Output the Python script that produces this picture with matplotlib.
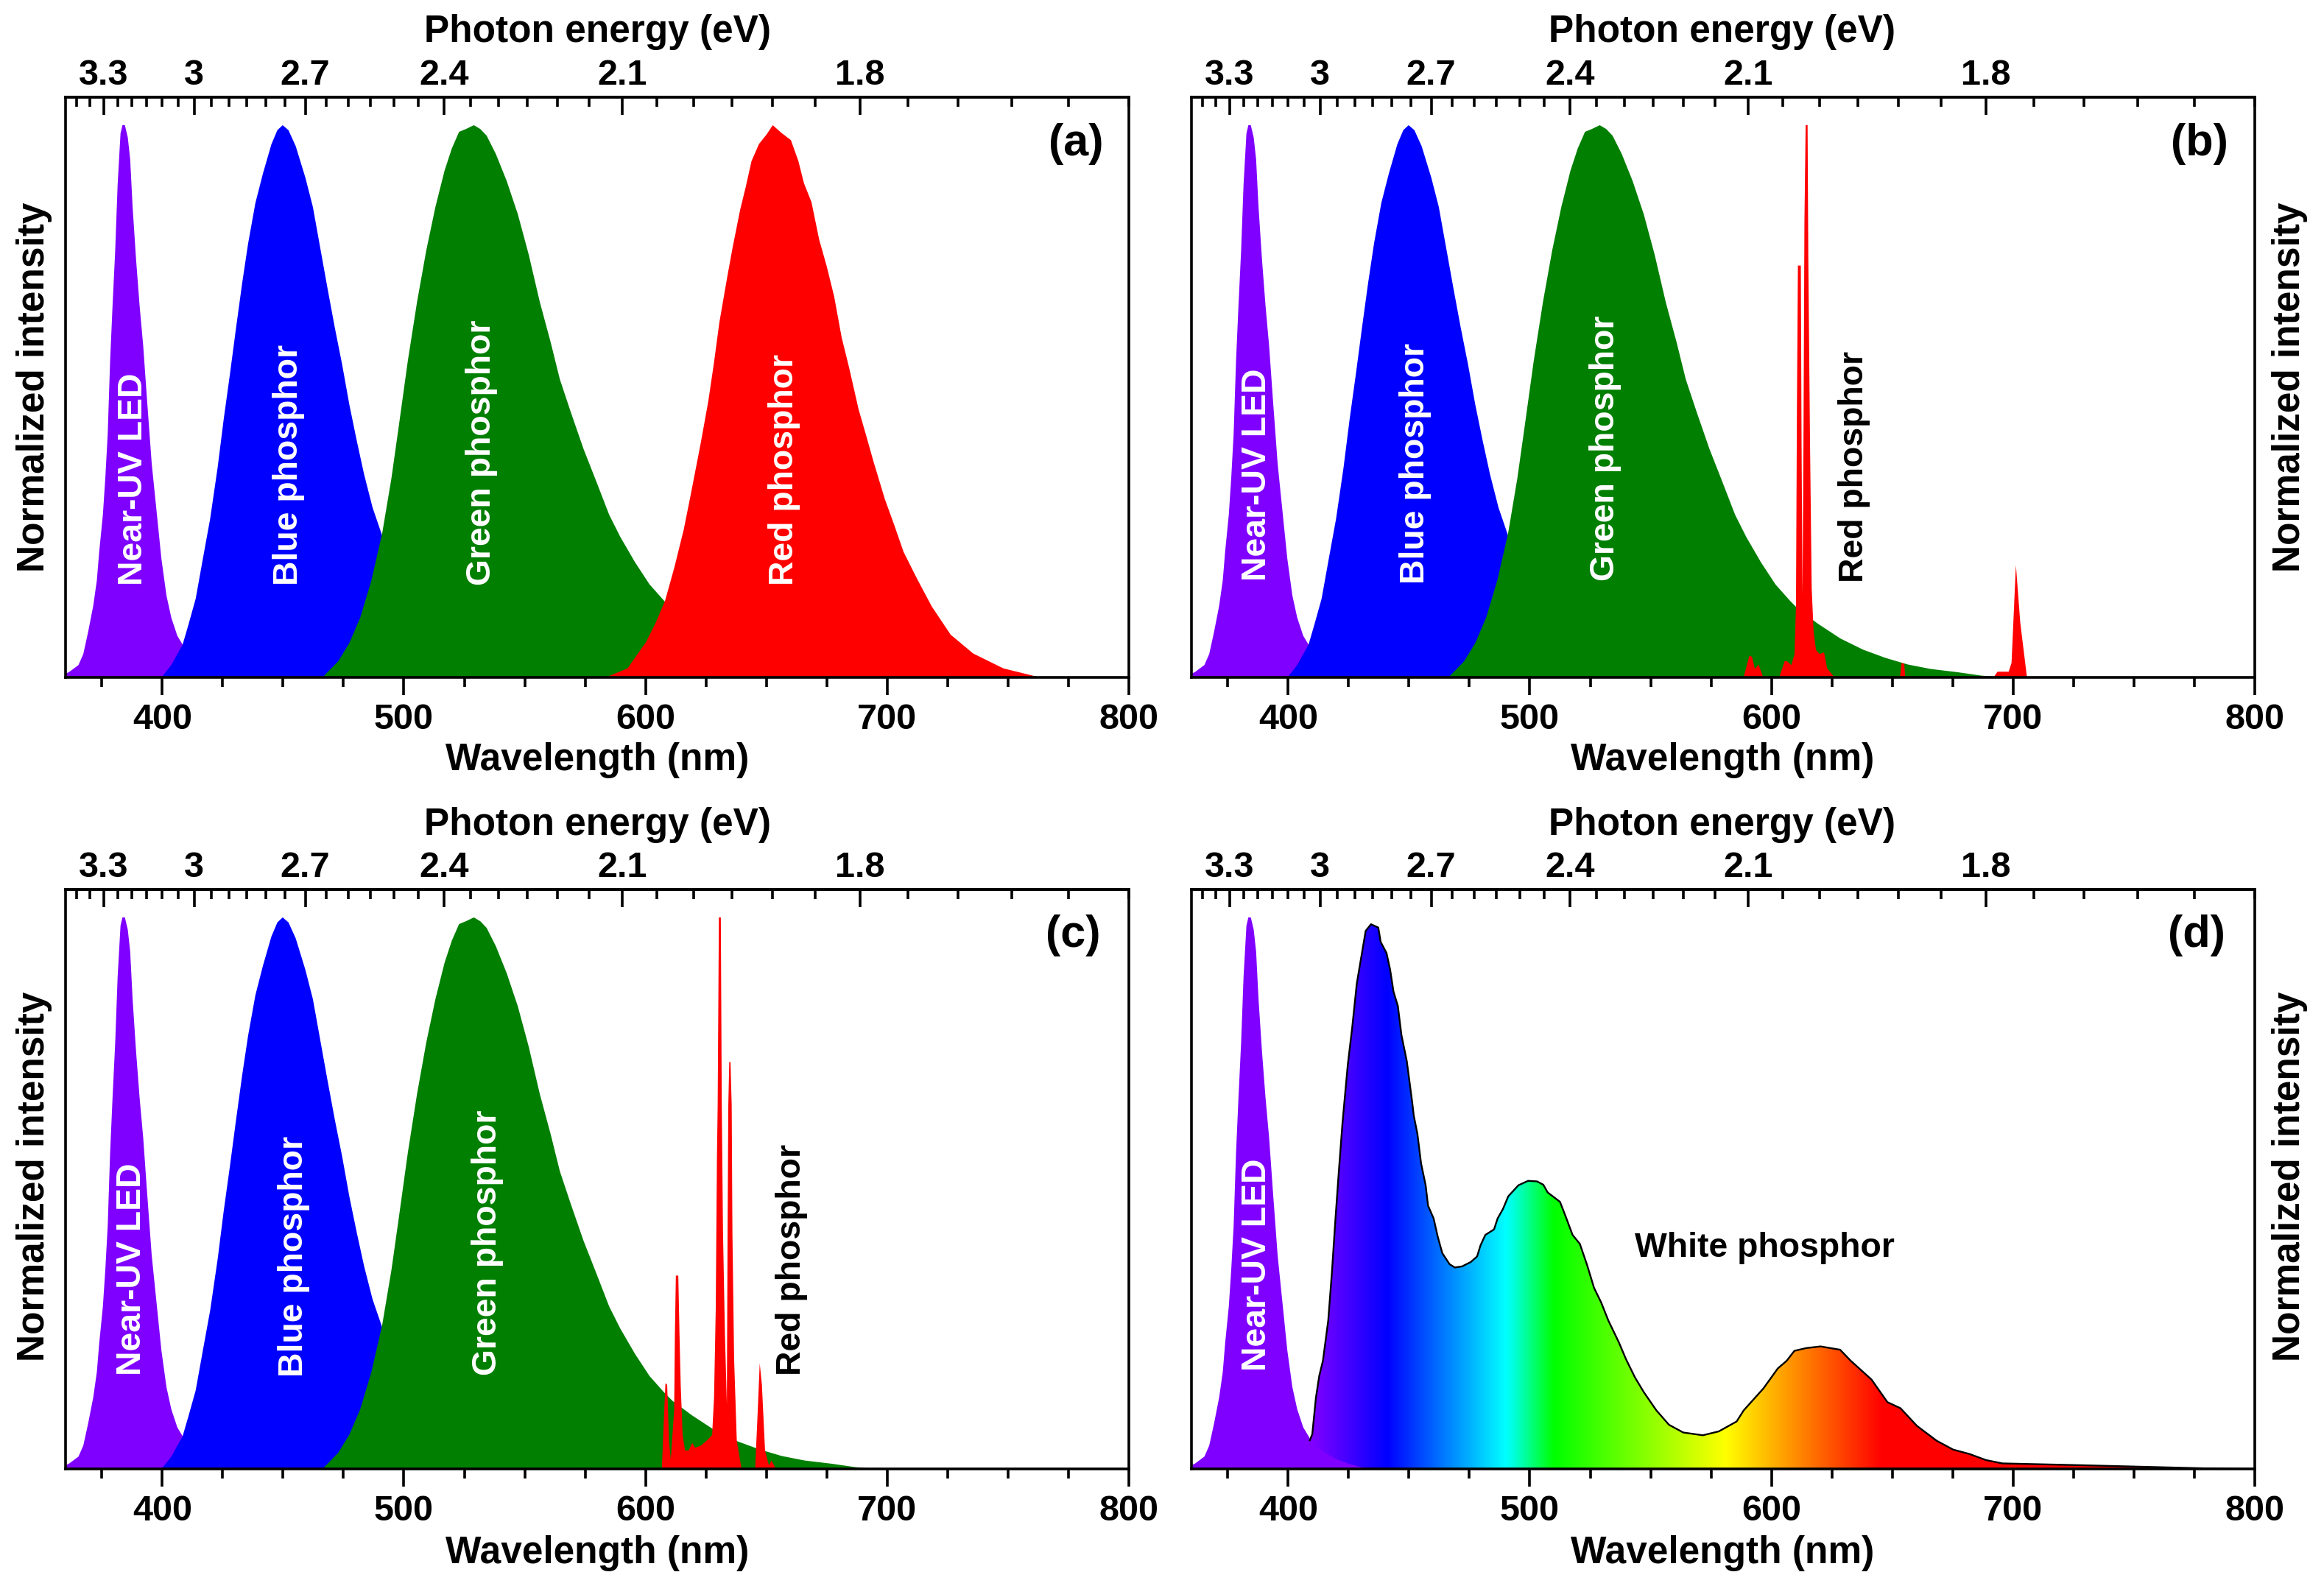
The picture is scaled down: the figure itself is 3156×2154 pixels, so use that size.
import numpy as np
import matplotlib
matplotlib.use("Agg")
import matplotlib.pyplot as plt
from matplotlib.colors import LinearSegmentedColormap
from matplotlib.ticker import FixedLocator, NullFormatter
from matplotlib.patches import Polygon

plt.rcParams['font.family'] = ['Liberation Sans', 'DejaVu Sans']
plt.rcParams['font.weight'] = 'bold'

W, H = 3156, 2154
S = 3156 / 1568

uv_nm = [360, 361.2, 365.2, 367.2, 369.2, 371.3, 372.8, 373.8, 375.3, 376.3, 377.3, 378.3, 379.3, 380.4, 381.4, 382.6, 383.4, 384.4, 385.6, 386.6, 387.6, 389, 390.5, 392, 393.5, 395.5, 397.5, 399.5, 401.6, 403.6, 406.1, 408.3, 412, 420]
uv_i = [.008, .01, .023, .043, .083, .13, .176, .229, .295, .361, .441, .574, .673, .773, .892, .985, 1.0, 1.0, .978, .938, .852, .759, .673, .6, .507, .388, .302, .216, .149, .109, .076, .06, .03, 0]

blue_nm = [399.5, 403.6, 408.3, 410.7, 413.7, 416.7, 419.7, 422.8, 425.3, 427.8, 430.4, 432.9, 435.4, 438.4, 441.5, 445, 447.5, 449.7, 452.1, 455.1, 459.1, 462.2, 465.2, 468.2, 471.3, 474.3, 477.3, 480.4, 483.4, 486.9, 490.5, 500, 515, 525]
blue_i = [0, .023, .06, .096, .143, .216, .288, .381, .468, .547, .633, .713, .786, .859, .912, .965, .991, 1.0, .991, .962, .905, .852, .779, .706, .633, .567, .494, .428, .368, .308, .262, .12, .03, 0]

green_nm = [465, 466.7, 472.7, 477.3, 481.8, 486.4, 490.9, 494.7, 497.7, 501.5, 505.3, 509.1, 512.9, 516.7, 519.7, 522.7, 525.5, 528.8, 531.5, 534.1, 537.9, 542.4, 547, 551.5, 556.1, 560.6, 564.4, 568.9, 574.2, 579.5, 584.8, 589.4, 595.5, 601.5, 607.6, 611, 619, 628.4, 637.7, 647, 656.3, 665.6, 677, 686.5, 695, 705]
green_i = [0, .003, .03, .063, .109, .176, .262, .361, .454, .574, .68, .773, .852, .918, .958, .988, .993, 1.0, .993, .981, .948, .899, .839, .766, .68, .607, .54, .481, .414, .355, .295, .255, .209, .169, .139, .124, .098, .071, .051, .036, .024, .016, .01, .004, .001, 0]

red_a_nm = [583, 592.4, 600.1, 604, 607.9, 611.8, 615.7, 618.8, 622.7, 625.8, 628.1, 630.4, 633.6, 635.9, 639, 641.3, 643.7, 646.8, 649.9, 652.5, 656.1, 660, 663.1, 665.4, 668.5, 671.7, 674.8, 677.9, 681, 684.1, 688, 691.1, 694.2, 698.9, 702.8, 706.6, 712.1, 718.3, 726.1, 735.4, 747.9, 761.8, 768]
red_a_i = [0, .017, .065, .099, .139, .2, .269, .337, .425, .5, .568, .643, .724, .779, .847, .888, .935, .966, .983, 1.0, .986, .973, .935, .895, .861, .793, .745, .69, .616, .561, .486, .439, .391, .323, .276, .228, .18, .129, .078, .044, .017, .002, 0]

red_b_nm = [588.3, 590.7, 591.8, 593, 594.5, 596.5, 603, 605.3, 606.3, 608.1, 609.4, 610, 610.4, 610.8, 612, 612.3, 612.7, 613.1, 613.5, 614, 614.8, 615.1, 615.8, 616.5, 617.3, 618.3, 619.8, 621.6, 622.9, 625.5, 628.6, 653, 653.7, 654.8, 655.2, 691.6, 693.4, 698, 699.2, 701, 702.8, 705.6]
red_b_i = [0, .04, .038, .016, .024, 0, 0, .03, .03, .023, .043, .129, .494, .746, .746, .428, .149, .428, .826, 1.0, 1.0, .759, .428, .162, .083, .05, .043, .046, .017, .003, 0, 0, .027, .025, 0, 0, .011, .011, .027, .204, .10, 0]

red_c_nm = [606.6, 607.6, 608.1, 608.8, 609.6, 610.3, 611.7, 612, 612.4, 613.4, 613.9, 614.4, 615.2, 616.2, 617.7, 619.2, 620.3, 622.8, 625.4, 627.4, 628.2, 628.9, 629.4, 629.7, 630.2, 631, 631.4, 631.9, 632.7, 633.5, 633.8, 634.1, 634.5, 635, 635.5, 635.8, 636.5, 637.6, 639.6, 645.2, 646.3, 647.1, 648, 649.3, 650.9, 652, 653.8]
red_c_i = [0, .108, .156, .153, .048, .018, .108, .245, .351, .351, .245, .153, .062, .034, .034, .048, .039, .043, .053, .062, .13, .29, .566, .66, 1.0, 1.0, .66, .43, .245, .117, .43, .66, .738, .738, .66, .43, .2, .053, 0, 0, .108, .192, .153, .034, .007, .016, 0]

white_nm = [409, 410, 411.5, 412.9, 414.4, 416.6, 418.1, 419.6, 421, 422.5, 424.7, 426.5, 428.4, 429.9, 432.1, 434.3, 437.3, 438.3, 440.7, 442.2, 443.6, 445.4, 446.9, 449.1, 451.3, 452, 453.5, 455, 456.9, 457.9, 460.2, 461.9, 463.8, 466.8, 469, 472, 475.6, 478.2, 479.6, 481.6, 485.2, 486.7, 488.9, 491.1, 495.3, 499.3, 503, 505.6, 507.4, 512.5, 514.8, 517.7, 520.7, 523.6, 526.6, 529.5, 532.5, 536.9, 539.8, 543.5, 547.2, 552.4, 557.6, 563.5, 571.6, 578.2, 585.6, 588.5, 596.7, 602.6, 606.3, 609.5, 614.4, 620.3, 628.4, 632.8, 641.4, 648, 653.4, 660.2, 668.4, 675.2, 682, 688.8, 695.6, 725.6, 752.9, 780, 800]
white_i = [.052, .063, .129, .169, .196, .269, .355, .454, .54, .627, .733, .799, .879, .918, .975, .987, .981, .955, .935, .905, .865, .839, .786, .739, .666, .64, .607, .554, .514, .477, .454, .421, .391, .371, .365, .367, .375, .385, .405, .424, .434, .454, .471, .494, .514, .522, .521, .515, .501, .484, .458, .424, .408, .371, .328, .302, .269, .229, .199, .166, .139, .106, .08, .066, .061, .068, .086, .106, .146, .182, .196, .214, .219, .222, .216, .196, .162, .121, .11, .078, .051, .035, .027, .016, .01, .007, .004, .001, 0]

uv_tail_nm = [409, 415, 420, 425, 430, 438]
uv_tail_i = [.05, .03, .018, .01, .004, 0]

spectrum_nm = [400, 410, 441, 490, 493, 510, 581, 646, 800]
spectrum_col = ['#8000ff', '#8000ff', '#0000ff', '#00ffff', '#00ffe0', '#00ff00', '#ffff00', '#ff0000', '#ff0000']

bottom_major = [400, 500, 600, 700, 800]
bottom_minor = [375, 425, 450, 475, 525, 550, 575, 625, 650, 675, 725, 750, 775]
top_major = [3.3, 3.0, 2.7, 2.4, 2.1, 1.8]
top_labels = ['3.3', '3', '2.7', '2.4', '2.1', '1.8']
top_minor = [3.4, 3.35, 3.25, 3.2, 3.15, 3.1, 3.05, 2.95, 2.9, 2.85, 2.8, 2.75, 2.65, 2.6, 2.55, 2.5, 2.45,
             2.35, 2.3, 2.25, 2.2, 2.15, 2.05, 2.0, 1.95, 1.9, 1.85, 1.75, 1.7, 1.65, 1.6, 1.55]

VIOLET, BLUE, GREEN, RED = '#7f00ff', '#0000ff', '#007f00', '#ff0000'
FS = 35
LW = 2.6

fig = plt.figure(figsize=(W / 100, H / 100), dpi=100, facecolor='white')


def make_axes(l, t, r, b):
    ax = fig.add_axes([l / W, 1 - b / H, (r - l) / W, (b - t) / H])
    ax.set_xlim(360, 800)
    ax.set_ylim(0, 1.05)
    ax.set_yticks([])
    ax.xaxis.set_major_locator(FixedLocator(bottom_major))
    ax.xaxis.set_minor_locator(FixedLocator(bottom_minor))
    ax.tick_params(axis='x', which='major', direction='out', length=17, width=LW, labelsize=FS, pad=8)
    ax.tick_params(axis='x', which='minor', direction='out', length=9, width=LW)
    for s in ax.spines.values():
        s.set_linewidth(LW)
        s.set_zorder(10)
    for lab in ax.get_xticklabels():
        lab.set_fontweight('bold')
    sec = ax.secondary_xaxis('top', functions=(lambda w: 1239.84 / np.maximum(w, 1), lambda e: 1239.84 / np.maximum(e, 1e-3)))
    sec.xaxis.set_major_locator(FixedLocator(top_major))
    sec.xaxis.set_minor_locator(FixedLocator(top_minor))
    sec.set_xticklabels(top_labels, fontsize=FS, fontweight='bold')
    sec.xaxis.set_minor_formatter(NullFormatter())
    sec.tick_params(axis='x', which='major', direction='in', length=17, width=LW, pad=5)
    sec.tick_params(axis='x', which='minor', direction='in', length=9, width=LW)
    sec.spines['top'].set_linewidth(LW)
    return ax


def label(x, y, s, color='white', rot=90, size=33.4, ha='center', va='bottom'):
    fig.text(x * S / W, 1 - y * S / H, s, color=color, rotation=rot, fontsize=size, fontweight='bold',
             ha=ha, va=va, zorder=20)


axes = {
    'a': make_axes(89, 132, 1533, 920),
    'b': make_axes(1618, 132, 3062, 920),
    'c': make_axes(89, 1208, 1533, 1995),
    'd': make_axes(1618, 1208, 3062, 1995),
}

for k in 'abc':
    a = axes[k]
    a.fill_between(uv_nm, uv_i, 0, color=VIOLET, lw=0, zorder=1)
    a.fill_between(blue_nm, blue_i, 0, color=BLUE, lw=0, zorder=2)
    a.fill_between(green_nm, green_i, 0, color=GREEN, lw=0, zorder=3)
axes['a'].fill_between(red_a_nm, red_a_i, 0, color=RED, lw=0, zorder=4)
axes['b'].fill_between(red_b_nm, red_b_i, 0, color=RED, lw=0, zorder=4)
axes['c'].fill_between(red_c_nm, red_c_i, 0, color=RED, lw=0, zorder=4)

d = axes['d']
d.fill_between(uv_nm, uv_i, 0, color=VIOLET, lw=0, zorder=1)
stops = [(n - 400) / 400 for n in spectrum_nm]
cmap = LinearSegmentedColormap.from_list('spectrum', list(zip(stops, spectrum_col)), N=2048)
grad = np.linspace(0, 1, 1600).reshape(1, -1)
im = d.imshow(grad, extent=[400, 800, 0, 1.05], aspect='auto', cmap=cmap, vmin=0, vmax=1, zorder=2)
outline = list(zip(white_nm, white_i)) + [(800, 0), (409, 0)]
poly = Polygon(outline, closed=True, transform=d.transData, facecolor='none', edgecolor='none')
d.add_patch(poly)
im.set_clip_path(poly)
d.set_xlim(360, 800)
d.set_ylim(0, 1.05)
d.fill_between(uv_tail_nm, uv_tail_i, 0, color=VIOLET, lw=0, zorder=3)
d.plot(white_nm, white_i, color='black', lw=1.7, zorder=5)

for xc, yt, yc in ((403, 21.5, 513), (1162, 21.5, 513), (403, 556.5, 1048), (1162, 556.5, 1048)):
    label(xc, yt, 'Photon energy (eV)', color='black', rot=0, size=37, va='center')
    label(xc, yc, 'Wavelength (nm)', color='black', rot=0, size=37, va='center')

for x, y in ((23, 261), (23, 794), (1545, 261), (1545, 794)):
    label(x, y, 'Normalized intensity', color='black', size=37, va='center')

for t, x, y, c in (('Near-UV LED', 90, 395, 'white'), ('Blue phosphor', 195, 395, 'white'),
                   ('Green phosphor', 325, 395, 'white'), ('Red phosphor', 529, 395, 'white'),
                   ('Near-UV LED', 848, 392, 'white'), ('Blue phosphor', 955, 394, 'white'),
                   ('Green phosphor', 1083, 392, 'white'), ('Red phosphor', 1251, 393, 'black'),
                   ('Near-UV LED', 89, 928, 'white'), ('Blue phosphor', 198, 929, 'white'),
                   ('Green phosphor', 329, 928, 'white'), ('Red phosphor', 534, 928, 'black'),
                   ('Near-UV LED', 848, 925, 'white')):
    label(x, y, t, color=c)
label(1190.5, 842, 'White phosphor', color='black', rot=0, va='center')

for t, x, y in (('(a)', 726, 97), ('(b)', 1484, 97), ('(c)', 724, 631), ('(d)', 1482, 631)):
    label(x, y, t, color='black', rot=0, size=44, va='center')

fig.savefig('out.png', dpi=100, facecolor='white')
